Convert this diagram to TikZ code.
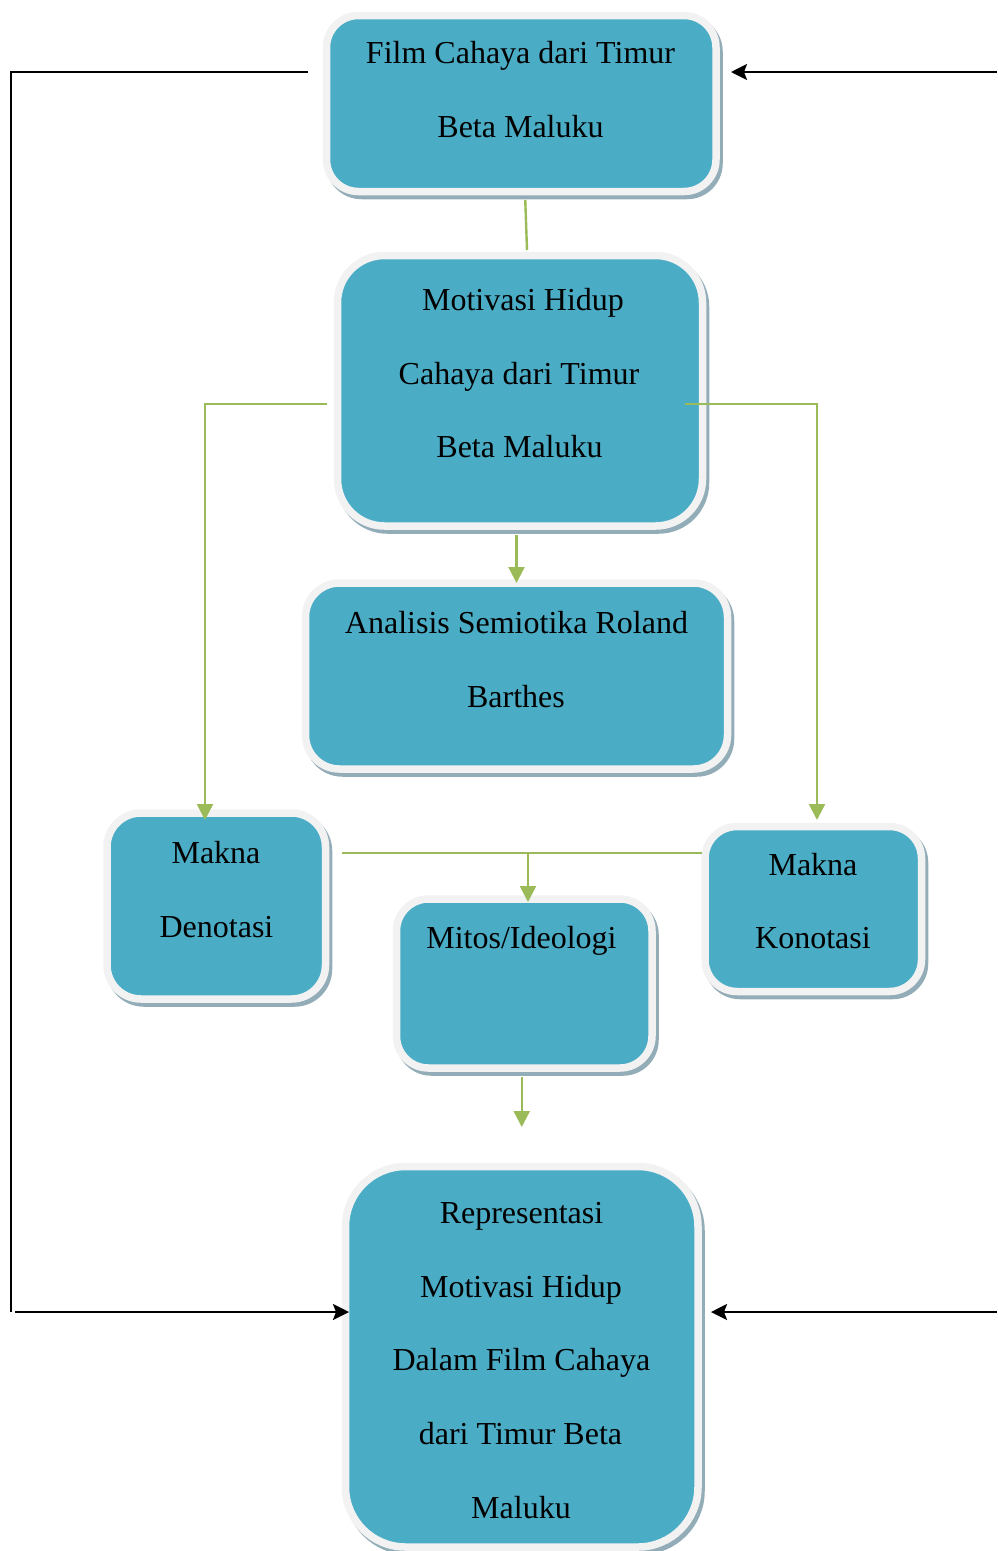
\documentclass[tikz,border=0pt]{standalone}
\usepackage{fontspec}
\setmainfont{Liberation Serif}
\usetikzlibrary{arrows.meta}
\definecolor{teal5}{HTML}{4BACC6}
\definecolor{rim}{HTML}{F2F2F2}
\definecolor{shade}{HTML}{93ADB8}
\definecolor{leaf}{HTML}{9BBB59}
\tikzset{
  box/.style={draw=rim, fill=teal5, line width=7.5pt, inner sep=0pt, outer sep=0pt,
    preaction={draw=shade, fill=shade, line width=7.5pt, transform canvas={shift={(3pt,-4pt)}}}},
  lbl/.style={font=\fontsize{32}{38}\selectfont, anchor=base, inner sep=0pt, outer sep=0pt},
  gline/.style={draw=leaf, line width=2.4pt},
  garrow/.style={gline, -{Triangle[length=16pt,width=16pt]}},
  bline/.style={draw=black, line width=2.4pt},
  barrow/.style={bline, -{Stealth[length=16pt,width=16pt,inset=3pt]}},
}
\begin{document}
\begin{tikzpicture}[x=1pt,y=-1pt]
\useasboundingbox (0,0) rectangle (997,1551);

% boxes
\node[box, minimum width=389.5pt, minimum height=176pt, rounded corners=32pt] (film) at (521.25,103.5) {};
\node[box, minimum width=365pt, minimum height=270.5pt, rounded corners=47pt] (motiv) at (520,390.75) {};
\node[box, minimum width=422pt, minimum height=186pt, rounded corners=34pt] (anal) at (516.5,676) {};
\node[box, minimum width=218.5pt, minimum height=186pt, rounded corners=34pt] (denot) at (216.25,906) {};
\node[box, minimum width=216.5pt, minimum height=165pt, rounded corners=32pt] (konot) at (813.25,909) {};
\node[box, minimum width=255.5pt, minimum height=169pt, rounded corners=32pt] (mitos) at (524.25,983.5) {};
\node[box, minimum width=352.5pt, minimum height=380.5pt, rounded corners=60pt] (repr) at (521.75,1356.75) {};

% texts
\node[lbl] (film1) at (520.5,63) {Film Cahaya dari Timur};
\node[lbl] (film2) at (520.5,137) {Beta Maluku};
\node[lbl] (motiv1) at (523,310) {Motivasi Hidup};
\node[lbl] (motiv2) at (519,384) {Cahaya dari Timur};
\node[lbl] (motiv3) at (519.5,457) {Beta Maluku};
\node[lbl] (anal1) at (516.5,633) {Analisis Semiotika Roland};
\node[lbl] (anal2) at (516,707) {Barthes};
\node[lbl] (denot1) at (216,863) {Makna};
\node[lbl] (denot2) at (216.5,937) {Denotasi};
\node[lbl] (konot1) at (813,875) {Makna};
\node[lbl] (konot2) at (813,948) {Konotasi};
\node[lbl] (mitos1) at (521.5,948) {Mitos/Ideologi};
\node[lbl] (repr1) at (521.5,1223) {Representasi};
\node[lbl] (repr2) at (521,1297) {Motivasi Hidup};
\node[lbl] (repr3) at (521.5,1370) {Dalam Film Cahaya};
\node[lbl] (repr4) at (520.5,1444) {dari Timur Beta};
\node[lbl] (repr5) at (521,1518) {Maluku};

% named free ends
\coordinate (lc) at (11,1312);
\coordinate (lb) at (15,1312);
\coordinate (rt) at (997,72);
\coordinate (rb) at (997,1312);
\coordinate (jl) at ([xshift=16.5pt,yshift=53pt]denot.east);
\coordinate (jr) at ([xshift=-3pt]konot.west |- jl);
\coordinate (jm) at ([xshift=3.75pt]mitos.north |- jl);

% green connectors
\draw[gline] ([xshift=4pt,yshift=-8.5pt]film.south) -- ([xshift=7pt,yshift=5.5pt]motiv.north);
\draw[garrow] ([xshift=-10.5pt,yshift=-13.25pt]motiv.west) -| ([xshift=-11.25pt,yshift=-7pt]denot.north);
\draw[garrow] ([xshift=-17.5pt,yshift=-13.25pt]motiv.east) -| ([xshift=3.75pt,yshift=6.5pt]konot.north);
\draw[garrow] ([xshift=-3.5pt,yshift=-9pt]motiv.south) -- (anal.north);
\draw[gline] (jl) -- (jr);
\draw[garrow] (jm) -- ([xshift=3.75pt,yshift=-3pt]mitos.north);
\draw[garrow] ([yshift=-9pt]repr.north |- mitos.south) -- ([yshift=39.5pt]repr.north);

% black connectors
\draw[bline] ([xshift=-18.5pt,yshift=31.5pt]film.west) -| (lc);
\draw[barrow] (lb) -- ([xshift=3.5pt,yshift=44.75pt]repr.west);
\draw[barrow] (rt) -- ([xshift=15pt,yshift=31.5pt]film.east);
\draw[barrow] (rb) -- ([xshift=13pt,yshift=44.75pt]repr.east);
\end{tikzpicture}
\end{document}
